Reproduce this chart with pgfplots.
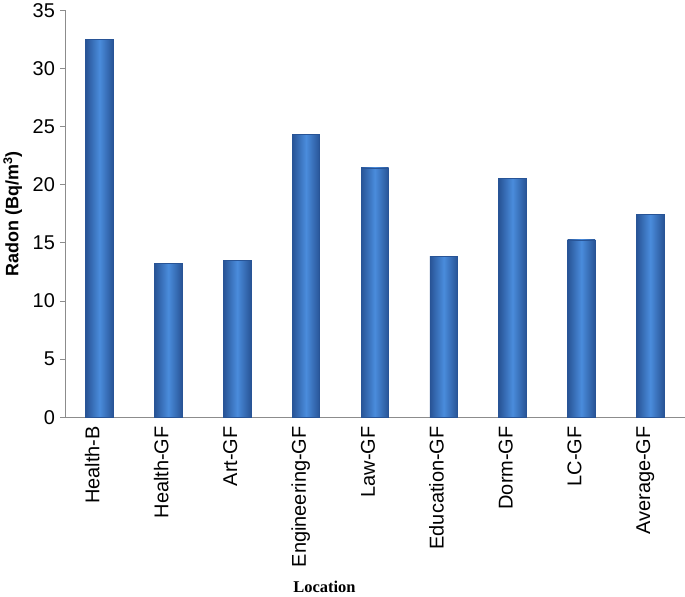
\documentclass[border=0pt]{standalone}
\usepackage{fontspec}
\setmainfont{Liberation Sans}
\newfontfamily\timesfont{Liberation Serif}
\usepackage{pgfplots}
\pgfplotsset{compat=1.18}
\definecolor{barmid}{RGB}{74,140,220}
\definecolor{baredge}{RGB}{40,84,150}
\definecolor{axisgray}{RGB}{140,140,140}

% one path per bar, so that each bar gets its own shading
\pgfplotsset{radonbar/.style={ybar, bar width=27.5pt, bar shift=0pt,
    draw=baredge, line width=0.6pt,
    left color=baredge, right color=baredge, middle color=barmid}}

\begin{document}
\begin{tikzpicture}
\begin{axis}[
    at={(0,0)}, anchor=south west,
    scale only axis,
    width=621pt, height=407.7pt,
    xmin=-0.5, xmax=8.5,
    ymin=0, ymax=35,
    ytick={0,5,...,35},
    xtick={0,...,8},
    xticklabels={Health-B,Health-GF,Art-GF,Engineering-GF,Law-GF,Education-GF,Dorm-GF,LC-GF,Average-GF},
    /pgf/number format/assume math mode=true,
    xticklabel style={rotate=90, anchor=base east, inner xsep=4pt,
        font=\fontsize{20}{24}\selectfont},
    yticklabel style={inner xsep=5pt, font=\fontsize{20}{24}\selectfont},
    axis lines*=left,
    axis line style={axisgray, line width=0.8pt},
    tick align=outside,
    major tick length=5pt,
    ytick style={axisgray, line width=0.8pt},
    xtick style={draw=none},
    ylabel={Radon (Bq/m\textsuperscript{3})},
    ylabel style={at={(axis description cs:-0.0845,0.5)}, anchor=center,
        font=\bfseries\fontsize{18}{22}\selectfont},
    xlabel={Location},
    xlabel style={at={(axis description cs:0.4187,-0.4177)}, anchor=center,
        font=\timesfont\bfseries\fontsize{16.5}{20}\selectfont},
]
\addplot[radonbar] coordinates {(0,32.5)};   % Health-B
\addplot[radonbar] coordinates {(1,13.2)};   % Health-GF
\addplot[radonbar] coordinates {(2,13.5)};   % Art-GF
\addplot[radonbar] coordinates {(3,24.3)};   % Engineering-GF
\addplot[radonbar] coordinates {(4,21.45)};  % Law-GF
\addplot[radonbar] coordinates {(5,13.8)};   % Education-GF
\addplot[radonbar] coordinates {(6,20.55)};  % Dorm-GF
\addplot[radonbar] coordinates {(7,15.25)};  % LC-GF
\addplot[radonbar] coordinates {(8,17.45)};  % Average-GF
\end{axis}
\path (-64pt,-177.3pt) rectangle (621pt,415.7pt);
\end{tikzpicture}
\end{document}
